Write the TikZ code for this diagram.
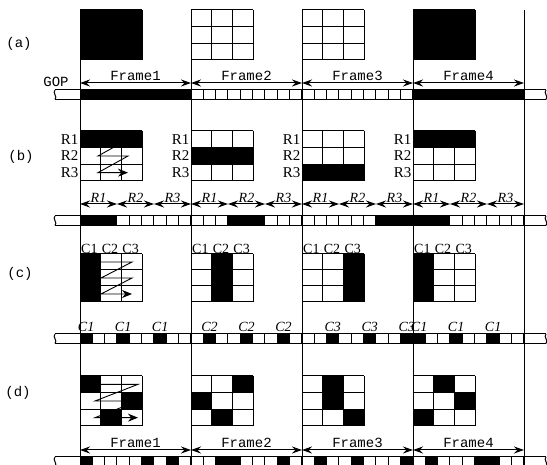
\documentclass[tikz,border=0pt]{standalone}
\usepackage{fontspec}
\setmainfont{Liberation Serif}
\setmonofont{Liberation Mono}
\usetikzlibrary{arrows.meta}
\def\xFa{80}
\def\xFb{191}
\def\xFc{302}
\def\xFd{413}
\def\xFe{524}
\def\cw{12.333}
\def\gw{20.667}
\tikzset{
  gpline/.style={line width=1pt},
  gparr/.style={{Stealth[length=10pt,width=7pt]}-{Stealth[length=10pt,width=7pt]}, line width=1pt},
  gpzig/.style={-{Stealth[length=10pt,width=8pt]}, line width=0.9pt},
  gpfrm/.style={font=\ttfamily\fontsize{14}{14}\selectfont, inner sep=0pt},
  gprow/.style={font=\fontsize{15}{15}\selectfont, inner sep=0pt},
  gpcol/.style={font=\fontsize{14}{14}\selectfont, inner sep=0pt},
  gpsub/.style={font=\itshape\fontsize{14}{14}\selectfont, inner sep=0pt},
}
\newcommand{\gpbounds}{%
  \foreach \x in {\xFa,\xFb,\xFc,\xFd,\xFe}
    \draw[gpline] (\x,10) -- (\x,466);}
\newcommand{\gpgrid}[4]{%
  \foreach \c in {#4} {
    \ifnum\c>0
      \pgfmathtruncatemacro\gc{mod(\c-1,3)}
      \pgfmathtruncatemacro\gr{(\c-1)/3}
      \fill (#1+\gc*\gw, #2+\gr*#3/3) rectangle ++(\gw, #3/3);
    \fi
  }
  \foreach \i in {0,...,3} {
    \draw[gpline] (#1+\i*\gw, #2) -- ++(0, #3);
    \draw[gpline] (#1, #2+\i*#3/3) -- ++(3*\gw, 0);
  }}
\newcommand{\gpbar}[2]{%
  \foreach \c in {#2}
    \fill (\xFa+\c*\cw-\cw, #1) rectangle ++(\cw, 9.5);
  \foreach \i in {0,...,36}
    \draw[gpline] (\xFa+\i*\cw, #1) -- ++(0, 9.5);
  \draw[gpline] (55,#1) -- (546,#1) (55,#1+9.5) -- (546,#1+9.5);
  \draw[gpline] (55,#1) .. controls (52,#1+3) and (58,#1+6.5) .. (55,#1+9.5);
  \draw[gpline] (546,#1) .. controls (543,#1+3) and (549,#1+6.5) .. (546,#1+9.5);}
\newcommand{\gpframes}[2]{%
  \foreach \a/\b/\n in {\xFa/\xFb/1,\xFb/\xFc/2,\xFc/\xFd/3,\xFd/\xFe/4} {
    \coordinate (#2-\n-l) at (\a,#1);
    \coordinate (#2-\n-r) at (\b,#1);
    \draw[gparr] (#2-\n-l) -- (#2-\n-r) node[gpfrm, midway, above=1.5pt] (#2-\n-t) {Frame\n};
  }}
\newcommand{\gpsubs}[2]{%
  \foreach \f/\x in {1/\xFa,2/\xFb,3/\xFc,4/\xFd}
    \foreach \k in {1,2,3} {
      \coordinate (#2-\f-\k-l) at (\x+\k*37-37, #1);
      \coordinate (#2-\f-\k-r) at (\x+\k*37, #1);
      \draw[gparr] (#2-\f-\k-l) -- (#2-\f-\k-r) node[gpsub, midway, above=0.5pt] (#2-\f-\k-t) {R\k};
    }}
\newcommand{\gprlbl}[3]{%
  \foreach \r in {1,2,3}
    \node[gprow, anchor=east] (#3-\r) at (#1-1.5, #2+\r*50/3-25/3) {R\r};}
\newcommand{\gpclbl}[3]{%
  \foreach \k in {1,2,3}
    \node[gpcol, anchor=south] (#3-\k) at (#1+\k*\gw-\gw/2-1, #2-0.5) {C\k};}
\newcommand{\gpzigzag}[5]{%
  \draw[gpzig] (#1+#4, #2+#3/6) -- (#1+#5, #2+#3/6)
    -- (#1+#4, #2+#3/2) -- (#1+#5, #2+#3/2)
    -- (#1+#4, #2+5*#3/6) -- (#1+#5, #2+5*#3/6);}
\begin{document}
\begin{tikzpicture}[x=1pt, y=-1pt]
  \useasboundingbox (0,0) rectangle (547,465);
  \clip (0,0) rectangle (547,465);
  \fill[white] (0,0) rectangle (547,465);
  \gpbounds

  % (a) frame coding
  \node[gpfrm] (labA) at (19,44) {(a)};
  \gpgrid{\xFa}{10}{50}{1,...,9}
  \gpgrid{\xFb}{10}{50}{0}
  \gpgrid{\xFc}{10}{50}{0}
  \gpgrid{\xFd}{10}{50}{1,...,9}
  \node[gpfrm] (gop) at (56,81.5) {GOP};
  \gpframes{83}{fa}
  \gpbar{90}{1,2,3,4,5,6,7,8,9,28,29,30,31,32,33,34,35,36}

  % (b) rows
  \node[gpfrm] (labB) at (21,157) {(b)};
  \gpgrid{\xFa}{131}{50}{1,2,3}
  \gpgrid{\xFb}{131}{50}{4,5,6}
  \gpgrid{\xFc}{131}{50}{7,8,9}
  \gpgrid{\xFd}{131}{50}{1,2,3}
  \gprlbl{\xFa}{131}{rba}
  \gprlbl{\xFb}{131}{rbb}
  \gprlbl{\xFc}{131}{rbc}
  \gprlbl{\xFd}{131}{rbd}
  \gpzigzag{\xFa}{131}{50}{18}{48}
  \gpsubs{204}{sb}
  \gpbar{216}{1,2,3,13,14,15,25,26,27,28,29,30}

  % (c) columns
  \node[gpfrm] (labC) at (20,274) {(c)};
  \gpgrid{\xFa}{254}{48}{1,4,7}
  \gpgrid{\xFb}{254}{48}{2,5,8}
  \gpgrid{\xFc}{254}{48}{3,6,9}
  \gpgrid{\xFd}{254}{48}{1,4,7}
  \gpclbl{\xFa}{254}{cca}
  \gpclbl{\xFb}{254}{ccb}
  \gpclbl{\xFc}{254}{ccc}
  \gpclbl{\xFd}{254}{ccd}
  \gpzigzag{\xFa}{254}{48}{21}{52}
  \foreach \c/\t in {1/C1,4/C1,7/C1,11/C2,14/C2,17/C2,21/C3,24/C3,27/C3,28/C1,31/C1,34/C1}
    \node[gpsub] (cb-\c) at (\xFa+\c*\cw-\cw/2, 327) {\t};
  \gpbar{334}{1,4,7,11,14,17,21,24,27,28,31,34}

  % (d) scattered blocks
  \node[gpfrm] (labD) at (18,393) {(d)};
  \gpgrid{\xFa}{376}{50}{1,6,8}
  \gpgrid{\xFb}{376}{50}{3,4,8}
  \gpgrid{\xFc}{376}{50}{2,5,9}
  \gpgrid{\xFd}{376}{50}{2,6,7}
  \gpzigzag{\xFa}{376}{50}{15}{58}
  \gpframes{450}{fd}
  \gpbar{457}{1,6,8,12,13,17,20,23,27,29,33,34}
\end{tikzpicture}
\end{document}
